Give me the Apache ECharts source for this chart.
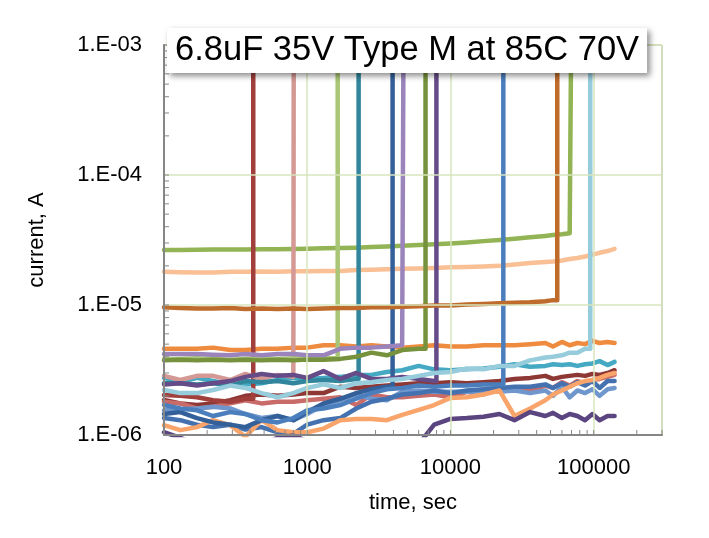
<!DOCTYPE html>
<html>
<head>
<meta charset="utf-8">
<script src="https://cdn.jsdelivr.net/npm/echarts@6/dist/echarts.min.js"></script>
<style>html,body{margin:0;padding:0;background:#fff;}#c{width:709px;height:538px;}</style>
</head>
<body>
<div id="c"></div>
<script>
// time points (sec)
const times = [100,130,170,220,290,370,480,620,800,1000,1300,1700,2200,2800,3600,4600,6000,7700,10000,13000,17000,22000,28000,36000,46000,52000,60000,68000,77000,87000,98000,110000,125000,140000];

// leakage current values in microamps per part (stop at failure)
const partA = [26.5,26.5,26.6,26.7,26.7,26.7,26.8,26.9,27.0,27.1,27.3,27.4,27.6,27.9,28.2,28.5,28.9,29.3,29.7,30.3,31.0,31.6,32.3,33.2,34.0,34.5,35.0,35.7];
const partB = [18.0,17.9,17.8,17.8,18.0,18.0,18.1,18.0,18.2,18.2,18.3,18.3,18.6,18.7,18.8,19.0,19.1,19.3,19.5,19.6,19.8,20.0,20.5,21.0,21.4,21.6,22.0,22.6,23.0,23.6,24.4,25.2,26.0,27.0];
const partC = [9.6,9.5,9.4,9.4,9.5,9.3,9.4,9.3,9.4,9.3,9.4,9.5,9.5,9.6,9.6,9.7,9.8,9.9,9.9,10.1,10.2,10.3,10.4,10.5,10.7,10.9];
const partD = [4.6,4.6,4.6,4.7,4.5,4.5,4.6,4.6,4.7,4.7,4.9,4.9,4.8,4.9,4.8,4.7,4.8,4.9,4.8,4.8,4.9,4.9,4.9,5.0,5.1,4.8,5.2,4.9,5.1,5.0,5.3,5.1,5.2,5.1];
const partE = [4.2,4.2,4.2,4.15,4.1,4.2,4.1,4.2,4.2,4.1,4.1,4.6,4.7,4.7,4.8,4.9];
const partF = [3.85,3.85,3.9,3.85,3.8,3.85,3.9,3.85,3.9,3.85,3.9];
const partG = [3.75,3.8,3.75,3.8,3.75,3.8,3.75,3.8,3.75,3.8,3.8,3.85,4.0,4.3,4.1,4.5,4.6];
const partH = [2.85,2.65,2.85,2.85,2.65,2.95,2.7,2.9,2.8];
const partI = [2.45,2.5,2.4,2.5,2.6,2.8,2.95,2.85,2.9,2.75,3.1,2.7,3.0,2.7,2.7,2.8,2.7,2.6];
const partJ = [2.75,2.55,2.75,2.6,2.45,2.45,2.5,2.65,2.75,2.7,2.75,2.8,2.9,2.9,3.05,3.15,3.4,3.2,3.15,3.2,3.25,3.35,3.5,3.35,3.4,3.5,3.45,3.5,3.4,3.5,3.55,3.7,3.45,3.65];
const partK = [2.5,2.5,2.45,2.5,2.4,2.6,2.55,2.6,2.5,2.6,2.65,2.6,2.7];
const partL = [2.22,2.1,2.1,2.22,2.4,2.3,2.1,1.95,2.1,2.3,2.45,2.3,2.5,2.55,2.65,2.7,2.85,3.0,3.05,3.25,3.2,3.4,3.4,3.75,3.95,4.0,4.1,4.3,4.3,4.6];
const partM = [2.03,2.0,1.95,1.85,1.8,1.9];
const partN = [1.86,1.75,1.7,1.75,1.85,2.0,2.05,2.0,2.05,2.1,2.1,2.35,2.3,2.35,2.4,2.45,2.5,2.5,2.55,2.5,2.55,2.6,2.7,2.75,2.85,2.7,2.8,2.85,2.9,2.85,2.95,2.9,3.0,3.15];
const partO = [1.8,1.75,1.6,1.65,1.75,1.85,1.75,1.8,1.8,1.85,1.9,1.95,1.7,2.05,1.95,1.95,2.0,2.05,1.95,2.15,2.05,2.3,2.25,2.2,2.4,2.3,2.55,2.4,2.6,2.5,2.65,2.7,2.8,2.9];
const partP = [1.7,1.6,1.55,1.4,1.5,1.45,1.3,1.25,1.35,1.55,1.6,1.7,1.9,2.1,2.25,2.3,2.4,2.35,2.4,2.4,2.45,2.45];
const partQ = [1.45,1.5,1.35,1.25,1.2,1.15,1.3,1.4,1.3,1.5,1.75,1.9,2.1,2.25,2.35];
const partR = [1.55,1.58,1.6,1.65,1.6,1.45,1.35,1.4,1.3,1.45,1.7,1.85,2.05,1.9,1.85,2.15,2.2,2.15,2.15,2.15,2.15,2.15,2.2,2.1,2.2,2.0,2.35,1.95,2.2,2.1,2.25,2.0,2.25,2.3];
const partS = [1.35,1.3,1.2,1.15,1.2,1.1,1.15,1.05,1.02,1.2,1.3,1.35,1.6,1.8,1.9,2.05,2.1,2.2,2.1,2.2,2.25,2.3,2.35,2.35,2.45,2.3,2.5,2.35,2.55,2.4,2.6,2.3,2.6,2.6];
const partT = [1.19,1.09,1.15,1.3,1.19,0.97,1.3,1.09,1.05,1.05,1.12,1.3,1.33,1.33,1.3,1.43,1.56,1.7,1.93,1.95,2.05,2.2,1.4,1.6,1.85,2.05,2.2,2.35,2.5,2.6,2.65,2.75,2.9,3.0];
const partU = [1.05,0.95,0.85,0.78,0.75,0.8,0.85,0.95,0.99,0.9,0.8,0.75,0.7,0.7,0.72,0.75,0.85,1.2,1.33,1.35,1.38,1.45,1.3,1.5,1.4,1.48,1.35,1.45,1.4,1.3,1.45,1.3,1.4,1.4];

// failure times (sec); null = survived
const failA = 69600, failC = 55700, failE = 4700, failF = 1632, failG = 6700, failH = 805,
      failI = 7980, failK = 2285, failL = 94700, failM = 420, failP = 23400, failQ = 3945;
const failCurrent = 1e-3; // current after breakdown (A), off the top of the scale

// axis ranges and tick labels
const xMin = 100, xMax = 300000, yMin = 1e-6, yMax = 1e-3;
const xLabels = [100, 1000, 10000, 100000];
const yLabels = [1e-6, 1e-5, 1e-4, 1e-3];

const parts = [
  {v: partA, f: failA, c: '#93B454'},
  {v: partB, f: null,  c: '#F9BF95'},
  {v: partD, f: null,  c: '#EE8B3E'},
  {v: partJ, f: null,  c: '#45A9C4'},
  {v: partN, f: null,  c: '#8E3836'},
  {v: partO, f: null,  c: '#C86B69'},
  {v: partR, f: null,  c: '#6F97CD'},
  {v: partS, f: null,  c: '#4472B0'},
  {v: partT, f: null,  c: '#F9A46A'},
  {v: partU, f: null,  c: '#5B4580'},
  {v: partM, f: failM, c: '#A13F3D'},
  {v: partH, f: failH, c: '#D49895'},
  {v: partF, f: failF, c: '#A9C676'},
  {v: partK, f: failK, c: '#31859C'},
  {v: partQ, f: failQ, c: '#34609A'},
  {v: partE, f: failE, c: '#9B84BC'},
  {v: partG, f: failG, c: '#76923C'},
  {v: partI, f: failI, c: '#654B87'},
  {v: partP, f: failP, c: '#4A7EBD'},
  {v: partC, f: failC, c: '#BE6B2C'},
  {v: partL, f: failL, c: '#96CCDB'}
];

function build(vals, fail) {
  const d = vals.map((v, i) => [times[i], v * 1e-6]);
  if (fail) {
    d.push([fail, vals[vals.length - 1] * 1e-6]);
    d.push([fail, failCurrent]);
  }
  return d;
}

// all tick positions (1..9 x each decade)
const xTickVals = [];
[100, 1000, 10000, 100000].forEach(b => { for (let k = 1; k <= 9; k++) { const v = k * b; if (v <= xMax) xTickVals.push(v); } });
const yTickVals = [];
[1e-6, 1e-5, 1e-4].forEach(b => { for (let k = 1; k <= 9; k++) yTickVals.push(k * b); });
yTickVals.push(1e-3);

const FONT = "'Liberation Sans', Arial, sans-serif";
const AX = '#868686';
const TICK = 5;

const tickSeriesX = {
  type: 'custom', z: 5, silent: true, clip: false,
  data: xTickVals.map(v => [v, yMin]),
  renderItem: (params, api) => {
    const p = api.coord([api.value(0), api.value(1)]);
    return {type: 'line', shape: {x1: p[0], y1: p[1], x2: p[0], y2: p[1] - TICK}, style: {stroke: AX, lineWidth: 1}};
  }
};
const tickSeriesY = {
  type: 'custom', z: 5, silent: true, clip: false,
  data: yTickVals.map(v => [xMin, v]),
  renderItem: (params, api) => {
    const p = api.coord([api.value(0), api.value(1)]);
    return {type: 'line', shape: {x1: p[0], y1: p[1], x2: p[0] + TICK, y2: p[1]}, style: {stroke: AX, lineWidth: 1}};
  }
};

const chart = echarts.init(document.getElementById('c'), null, {renderer: 'canvas'});
chart.setOption({
  backgroundColor: '#fff',
  animation: false,
  title: {
    text: '6.8uF 35V Type M at 85C 70V',
    left: 167, top: 28,
    padding: [4, 8, 4, 8],
    backgroundColor: '#fff',
    shadowColor: 'rgba(0,0,0,0.45)', shadowBlur: 6, shadowOffsetX: 3, shadowOffsetY: 3,
    textStyle: {fontFamily: FONT, fontSize: 34.5, fontWeight: 'normal', color: '#000', lineHeight: 37}
  },
  grid: {left: 164, right: 47, top: 45, bottom: 103, show: true, borderColor: AX, borderWidth: 1, backgroundColor: 'transparent'},
  xAxis: {
    type: 'log', logBase: 10, min: xMin, max: xMax, splitNumber: 3,
    name: 'time, sec', nameLocation: 'middle', nameGap: 57,
    nameTextStyle: {fontFamily: FONT, fontSize: 22, color: '#000'},
    axisLine: {lineStyle: {color: AX, width: 2}},
    axisTick: {show: false},
    axisLabel: {customValues: xLabels, fontFamily: FONT, fontSize: 22, color: '#000', margin: 22, formatter: v => String(Math.round(v))},
    splitLine: {show: true, lineStyle: {color: '#D7E4BD', width: 1.5}},
    z: 4
  },
  yAxis: {
    type: 'log', logBase: 10, min: yMin, max: yMax, splitNumber: 3,
    name: 'current, A', nameLocation: 'middle', nameGap: 116, nameRotate: 90,
    nameTextStyle: {fontFamily: FONT, fontSize: 22, color: '#000'},
    axisLine: {show: true, lineStyle: {color: AX, width: 2}},
    axisTick: {show: false},
    axisLabel: {customValues: yLabels, fontFamily: FONT, fontSize: 22, color: '#000', margin: 22,
      formatter: v => '1.E-' + String(-Math.round(Math.log10(v))).padStart(2, '0')},
    splitLine: {show: true, lineStyle: {color: '#D7E4BD', width: 1.5}},
    z: 4
  },
  series: parts.map(p => ({
    type: 'line', data: build(p.v, p.f), showSymbol: false, symbol: 'none', clip: true,
    lineStyle: {color: p.c, width: 4.5, cap: 'round', join: 'round'},
    itemStyle: {color: p.c}
  })).concat([tickSeriesX, tickSeriesY])
});
</script>
</body>
</html>
